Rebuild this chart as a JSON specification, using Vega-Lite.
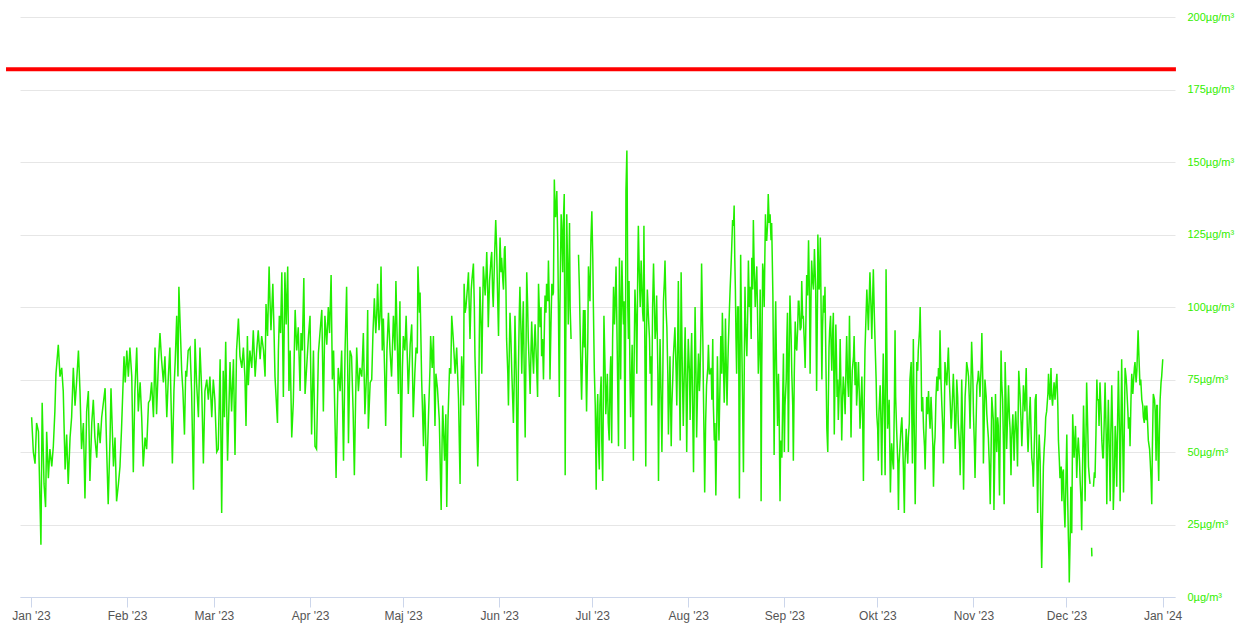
{
"$schema": "https://vega.github.io/schema/vega-lite/v6.json",
"width": 1155, "height": 580,
"autosize": "none",
"padding": {"left": 20, "top": 17, "right": 61, "bottom": 27},
"background": "white",
"config": {"view": {"stroke": null}, "font": "Liberation Sans, Arial, sans-serif"},
"data": {"values": [
{"d":0.2,"v":62},{"d":0.75,"v":50},{"d":1.3,"v":46},{"d":1.8,"v":60},{"d":2.4,"v":57},{"d":3.2,"v":18},{"d":3.6,"v":67},{"d":4.2,"v":39},{"d":4.7,"v":31},{"d":5.05,"v":57},{"d":5.6,"v":41},{"d":6.1,"v":51},{"d":6.7,"v":45},{"d":7.2,"v":52},{"d":7.7,"v":64},{"d":8.05,"v":77},{"d":8.8,"v":87},{"d":9.35,"v":76},{"d":9.9,"v":79},{"d":10.4,"v":71},{"d":11.0,"v":44},{"d":11.5,"v":56},{"d":12.0,"v":39},{"d":12.6,"v":55},{"d":13.1,"v":62},{"d":13.65,"v":79},{"d":14.2,"v":66},{"d":14.7,"v":74},{"d":15.3,"v":85},{"d":15.8,"v":71},{"d":16.3,"v":51},{"d":16.9,"v":60},{"d":17.4,"v":34},{"d":17.95,"v":64},{"d":18.5,"v":71},{"d":19.0,"v":40},{"d":19.6,"v":60},{"d":20.1,"v":68},{"d":20.6,"v":55},{"d":21.2,"v":48},{"d":21.7,"v":60},{"d":22.3,"v":53},{"d":22.8,"v":62},{"d":23.9,"v":72},{"d":24.4,"v":51},{"d":24.9,"v":32},{"d":25.5,"v":55},{"d":25.8,"v":72},{"d":26.6,"v":45},{"d":27.1,"v":55},{"d":27.6,"v":33},{"d":28.2,"v":39},{"d":28.7,"v":45},{"d":29.2,"v":58},{"d":30.0,"v":83},{"d":30.4,"v":74},{"d":30.9,"v":85},{"d":31.4,"v":76},{"d":31.9,"v":86},{"d":32.5,"v":76},{"d":33.0,"v":43},{"d":33.5,"v":71},{"d":34.1,"v":86},{"d":34.6,"v":64},{"d":35.2,"v":74},{"d":35.7,"v":62},{"d":36.2,"v":45},{"d":36.8,"v":55},{"d":37.3,"v":51},{"d":37.9,"v":67},{"d":38.4,"v":68},{"d":38.9,"v":74},{"d":39.5,"v":62},{"d":40.0,"v":86},{"d":40.5,"v":63},{"d":41.1,"v":81},{"d":41.6,"v":91},{"d":42.1,"v":82},{"d":42.7,"v":74},{"d":43.2,"v":83},{"d":43.8,"v":62},{"d":44.3,"v":76},{"d":44.8,"v":86},{"d":45.6,"v":46},{"d":46.1,"v":71},{"d":46.5,"v":81},{"d":47.0,"v":97},{"d":47.4,"v":76},{"d":47.7,"v":107},{"d":48.2,"v":91},{"d":48.6,"v":78},{"d":49.0,"v":71},{"d":49.5,"v":56},{"d":49.9,"v":78},{"d":50.2,"v":76},{"d":50.7,"v":85},{"d":51.3,"v":86},{"d":51.8,"v":71},{"d":52.4,"v":37},{"d":52.9,"v":89},{"d":53.4,"v":74},{"d":54.0,"v":62},{"d":54.5,"v":86},{"d":55.1,"v":70},{"d":55.6,"v":46},{"d":56.1,"v":71},{"d":56.7,"v":75},{"d":57.2,"v":68},{"d":57.7,"v":76},{"d":58.3,"v":62},{"d":58.8,"v":75},{"d":59.3,"v":68},{"d":59.9,"v":50},
{"d":60.4,"v":51},{"d":61.0,"v":82},{"d":61.5,"v":29},{"d":62.0,"v":78},{"d":62.4,"v":62},{"d":62.8,"v":88},{"d":63.4,"v":47},{"d":64.2,"v":81},{"d":64.7,"v":64},{"d":65.3,"v":82},{"d":65.8,"v":49},{"d":66.3,"v":85},{"d":66.9,"v":96},{"d":67.4,"v":83},{"d":68.0,"v":79},{"d":68.5,"v":86},{"d":69.0,"v":76},{"d":69.35,"v":59},{"d":69.8,"v":90},{"d":70.1,"v":73},{"d":70.6,"v":85},{"d":71.2,"v":79},{"d":71.7,"v":92},{"d":72.3,"v":76},{"d":72.8,"v":85},{"d":73.3,"v":92},{"d":73.9,"v":82},{"d":74.4,"v":90},{"d":75.0,"v":85},{"d":75.5,"v":76},{"d":75.8,"v":101},{"d":76.3,"v":90},{"d":76.8,"v":114},{"d":77.1,"v":102},{"d":77.4,"v":92},{"d":78.0,"v":108},{"d":78.4,"v":91},{"d":78.7,"v":76},{"d":79.5,"v":60},{"d":79.8,"v":85},{"d":80.1,"v":97},{"d":80.5,"v":91},{"d":80.9,"v":112},{"d":81.4,"v":69},{"d":81.9,"v":112},{"d":82.3,"v":94},{"d":82.8,"v":114},{"d":83.2,"v":71},{"d":83.6,"v":85},{"d":84.1,"v":55},{"d":84.6,"v":67},{"d":85.2,"v":99},{"d":85.7,"v":85},{"d":86.2,"v":93},{"d":86.8,"v":71},{"d":87.1,"v":91},{"d":87.5,"v":85},{"d":88.0,"v":110},{"d":88.4,"v":70},{"d":88.9,"v":79},{"d":89.5,"v":90},{"d":90.0,"v":97},{"d":90.5,"v":56},{"d":91.1,"v":85},{"d":91.6,"v":52},{"d":92.1,"v":51},{"d":92.7,"v":84},{"d":93.2,"v":91},{"d":93.8,"v":99},{"d":94.3,"v":64},{"d":94.8,"v":97},{"d":95.4,"v":87},{"d":95.9,"v":100},{"d":96.3,"v":91},{"d":96.8,"v":111},{"d":97.2,"v":75},{"d":97.6,"v":85},{"d":98.1,"v":58},{"d":98.4,"v":41},{"d":98.8,"v":64},{"d":99.1,"v":79},{"d":99.7,"v":71},{"d":100.2,"v":85},{"d":100.8,"v":47},{"d":101.3,"v":85},{"d":101.8,"v":107},{"d":102.15,"v":79},{"d":102.4,"v":53},{"d":102.9,"v":85},{"d":103.4,"v":83},{"d":103.9,"v":64},{"d":104.3,"v":42},{"d":104.7,"v":68},{"d":105.05,"v":86},{"d":105.6,"v":71},{"d":106.1,"v":79},{"d":106.7,"v":76},{"d":107.2,"v":91},{"d":107.7,"v":63},{"d":108.3,"v":79},{"d":108.6,"v":99},{"d":108.8,"v":58},{"d":109.4,"v":74},{"d":109.9,"v":75},{"d":110.3,"v":91},{"d":110.75,"v":103},{"d":111.2,"v":91},{"d":111.5,"v":97},{"d":111.8,"v":108},{"d":112.25,"v":92},{"d":112.6,"v":97},{"d":112.9,"v":114},{"d":113.3,"v":85},{"d":113.65,"v":96},{"d":114.1,"v":76},{"d":114.4,"v":59},{"d":114.8,"v":85},{"d":115.3,"v":98},{"d":115.8,"v":85},{"d":116.3,"v":76},{"d":116.9,"v":97},{"d":117.4,"v":85},{"d":117.7,"v":109},{"d":118.2,"v":85},{"d":118.5,"v":70},{"d":119.0,"v":102},{"d":119.35,"v":48},{"d":119.8,"v":79},{"d":120.1,"v":90},{"d":120.6,"v":85},{"d":121.0,"v":97},{"d":121.4,"v":82},{"d":121.7,"v":70},{"d":122.3,"v":87},{"d":122.8,"v":94},
{"d":123.3,"v":62},{"d":123.8,"v":77},{"d":124.2,"v":86},{"d":124.6,"v":84},{"d":124.8,"v":114},{"d":125.3,"v":98},{"d":125.5,"v":105},{"d":126.0,"v":75},{"d":126.6,"v":52},{"d":126.9,"v":70},{"d":127.1,"v":66},{"d":127.6,"v":40},{"d":128.0,"v":54},{"d":128.2,"v":62},{"d":128.7,"v":79},{"d":128.9,"v":90},{"d":129.4,"v":79},{"d":129.8,"v":90},{"d":130.3,"v":59},{"d":130.6,"v":77},{"d":131.1,"v":72},{"d":131.7,"v":61},{"d":132.3,"v":30},{"d":132.6,"v":54},{"d":132.8,"v":66},{"d":133.1,"v":56},{"d":133.4,"v":47},{"d":133.8,"v":63},{"d":134.1,"v":31},{"d":134.5,"v":61},{"d":135.0,"v":79},{"d":135.4,"v":77},{"d":135.7,"v":97},{"d":136.2,"v":89},{"d":136.8,"v":77},{"d":137.3,"v":86},{"d":137.9,"v":68},{"d":138.4,"v":39},{"d":138.6,"v":66},{"d":138.9,"v":83},{"d":139.3,"v":75},{"d":139.5,"v":66},{"d":139.7,"v":108},{"d":140.0,"v":98},{"d":140.3,"v":100},{"d":140.8,"v":107},{"d":141.1,"v":112},{"d":141.4,"v":98},{"d":141.6,"v":89},{"d":142.0,"v":106},{"d":142.2,"v":109},{"d":142.7,"v":115},{"d":143.0,"v":100},{"d":143.2,"v":83},{"d":143.8,"v":58},{"d":144.1,"v":45},{"d":144.3,"v":54},{"d":144.6,"v":89},{"d":144.8,"v":107},{"d":145.2,"v":93},{"d":145.4,"v":77},{"d":145.7,"v":100},{"d":145.9,"v":114},{"d":146.5,"v":104},{"d":146.8,"v":112},{"d":147.0,"v":119},{"d":147.3,"v":106},{"d":147.5,"v":93},{"d":147.9,"v":109},{"d":148.1,"v":112},{"d":148.4,"v":117},{"d":148.6,"v":119},{"d":148.9,"v":105},{"d":149.1,"v":100},{"d":149.6,"v":120},{"d":149.9,"v":130},{"d":150.2,"v":120},{"d":150.4,"v":109},{"d":150.8,"v":90},{"d":151.1,"v":114},{"d":151.3,"v":124},{"d":151.6,"v":112},{"d":151.8,"v":117},{"d":152.2,"v":109},{"d":152.4,"v":106},{"d":152.7,"v":120},{"d":152.9,"v":121},{"d":153.2,"v":106},{"d":153.4,"v":89},{"d":153.8,"v":77},{"d":154.0,"v":66},{"d":154.3,"v":86},{"d":154.5,"v":98},{"d":154.8,"v":89},{"d":155.1,"v":77},{"d":155.4,"v":67},{"d":155.6,"v":60},{"d":155.9,"v":77},{"d":156.1,"v":97},{"d":156.5,"v":77},{"d":156.7,"v":56},{"d":156.9,"v":40},{"d":157.2,"v":77},{"d":157.5,"v":98},{"d":157.7,"v":107},{"d":158.1,"v":89},{"d":158.3,"v":77},{"d":158.6,"v":94},{"d":158.8,"v":102},{"d":159.1,"v":77},{"d":159.4,"v":55},{"d":159.7,"v":89},{"d":159.9,"v":112},{"d":160.2,"v":100},{"d":160.4,"v":89},{"d":160.8,"v":77},{"d":161.0,"v":70},{"d":161.3,"v":86},{"d":161.5,"v":95},{"d":161.8,"v":84},{"d":162.1,"v":77},{"d":162.4,"v":89},{"d":162.6,"v":94},{"d":163.1,"v":79},{"d":163.4,"v":69},{"d":163.7,"v":108},{"d":164.0,"v":98},{"d":164.2,"v":93},{"d":164.5,"v":100},{"d":164.7,"v":83},{"d":165.0,"v":89},{"d":165.3,"v":75},{"d":165.6,"v":93},{"d":165.8,"v":104},{"d":166.1,"v":98},{"d":166.3,"v":108},{"d":166.7,"v":102},{"d":166.9,"v":116},{"d":167.2,"v":100},{"d":167.4,"v":75},{"d":167.7,"v":93},{"d":168.0,"v":108},{"d":168.3,"v":104},{"d":168.5,"v":105},{"d":168.8,"v":144},{"d":169.0,"v":135},{"d":169.2,"v":131},{"d":169.6,"v":140},{"d":169.9,"v":123},{"d":170.1,"v":102},{"d":170.4,"v":69},{"d":170.6,"v":100},{"d":171.0,"v":132},{"d":171.3,"v":123},{"d":171.5,"v":112},{"d":171.7,"v":129},{"d":172.0,"v":139},{"d":172.3,"v":42},{"d":172.5,"v":89},{"d":172.8,"v":132},{"d":173.1,"v":112},{"d":173.3,"v":94},{"d":173.7,"v":129},{"d":173.9,"v":100},{"d":174.2,"v":89},{"d":174.5,"v":null},{"d":176.6,"v":118},{"d":176.9,"v":106},{"d":177.1,"v":94},{"d":177.4,"v":77},{"d":177.6,"v":68},{"d":178.0,"v":89},{"d":178.2,"v":99},{"d":178.5,"v":86},{"d":178.7,"v":99},{"d":179.0,"v":77},{"d":179.2,"v":64},{"d":179.6,"v":89},{"d":179.8,"v":114},{"d":180.1,"v":106},{"d":180.3,"v":102},{"d":180.6,"v":123},{"d":180.9,"v":133},{"d":181.2,"v":117},{"d":181.4,"v":100},{"d":181.7,"v":78},{"d":182.0,"v":66},{"d":182.3,"v":37},{"d":182.5,"v":60},{"d":182.8,"v":70},{"d":183.0,"v":54},{"d":183.3,"v":44},{"d":183.5,"v":66},{"d":183.9,"v":76},{"d":184.1,"v":54},{"d":184.4,"v":40},{"d":184.6,"v":66},{"d":184.8,"v":97},{"d":185.2,"v":77},{"d":185.4,"v":63},{"d":185.7,"v":71},{"d":185.9,"v":77},{"d":186.2,"v":60},{"d":186.5,"v":54},
{"d":186.8,"v":77},{"d":187.0,"v":83},{"d":187.3,"v":53},{"d":187.6,"v":89},{"d":187.9,"v":107},{"d":188.2,"v":94},{"d":188.4,"v":100},{"d":188.7,"v":114},{"d":188.9,"v":100},{"d":189.1,"v":84},{"d":189.5,"v":52},{"d":189.8,"v":117},{"d":190.0,"v":100},{"d":190.2,"v":75},{"d":190.4,"v":100},{"d":190.6,"v":116},{"d":190.9,"v":100},{"d":191.1,"v":94},{"d":191.3,"v":102},{"d":191.6,"v":51},{"d":191.8,"v":100},{"d":191.9,"v":140},{"d":192.2,"v":154},{"d":192.3,"v":142},{"d":192.5,"v":100},{"d":192.7,"v":89},{"d":192.9,"v":109},{"d":193.2,"v":77},{"d":193.4,"v":62},{"d":193.7,"v":77},{"d":193.9,"v":87},{"d":194.1,"v":66},{"d":194.3,"v":47},{"d":194.5,"v":77},{"d":194.8,"v":106},{"d":195.2,"v":94},{"d":195.4,"v":77},{"d":195.7,"v":112},{"d":195.9,"v":128},{"d":196.2,"v":112},{"d":196.5,"v":100},{"d":196.8,"v":116},{"d":197.0,"v":109},{"d":197.3,"v":98},{"d":197.5,"v":95},{"d":197.7,"v":128},{"d":197.9,"v":100},{"d":198.3,"v":45},{"d":198.5,"v":89},{"d":198.8,"v":106},{"d":199.1,"v":98},{"d":199.5,"v":89},{"d":199.7,"v":77},{"d":200.0,"v":83},{"d":200.2,"v":66},{"d":200.5,"v":100},{"d":200.8,"v":115},{"d":201.1,"v":100},{"d":201.3,"v":89},{"d":201.6,"v":94},{"d":201.8,"v":104},{"d":202.2,"v":77},{"d":202.4,"v":40},{"d":202.6,"v":66},{"d":202.9,"v":89},{"d":203.1,"v":77},{"d":203.5,"v":50},{"d":203.8,"v":77},{"d":204.0,"v":102},{"d":204.3,"v":109},{"d":204.5,"v":116},{"d":204.8,"v":100},{"d":205.1,"v":93},{"d":205.4,"v":77},{"d":205.6,"v":56},{"d":205.9,"v":71},{"d":206.1,"v":83},{"d":206.5,"v":52},{"d":206.7,"v":66},{"d":207.0,"v":75},{"d":207.2,"v":83},{"d":207.5,"v":89},{"d":207.7,"v":93},{"d":208.1,"v":77},{"d":208.3,"v":66},{"d":208.6,"v":89},{"d":208.8,"v":109},{"d":209.1,"v":77},{"d":209.4,"v":54},{"d":209.7,"v":112},{"d":209.9,"v":94},{"d":210.1,"v":77},{"d":210.4,"v":59},{"d":210.8,"v":83},{"d":211.0,"v":93},{"d":211.3,"v":71},{"d":211.5,"v":50},{"d":211.8,"v":77},{"d":212.0,"v":89},{"d":212.4,"v":77},{"d":212.6,"v":61},{"d":212.9,"v":83},{"d":213.1,"v":91},{"d":213.4,"v":66},{"d":213.7,"v":43},{"d":214.0,"v":77},{"d":214.2,"v":100},{"d":214.5,"v":77},{"d":214.7,"v":55},{"d":215.1,"v":77},{"d":215.3,"v":84},{"d":215.6,"v":71},{"d":215.8,"v":76},{"d":216.1,"v":94},{"d":216.3,"v":115},{"d":216.7,"v":89},{"d":216.9,"v":70},{"d":217.1,"v":54},{"d":217.3,"v":36},{"d":217.6,"v":60},{"d":217.9,"v":73},{"d":218.3,"v":79},{"d":218.5,"v":87},{"d":218.8,"v":77},{"d":219.0,"v":77},{"d":219.4,"v":79},{"d":219.6,"v":68},{"d":219.9,"v":89},{"d":220.1,"v":66},{"d":220.4,"v":54},{"d":220.6,"v":60},{"d":220.9,"v":35},{"d":221.2,"v":60},{"d":221.4,"v":83},{"d":221.7,"v":66},{"d":221.9,"v":54},{"d":222.3,"v":77},{"d":222.5,"v":90},{"d":222.8,"v":77},{"d":223.0,"v":98},{"d":223.3,"v":83},{"d":223.6,"v":67},{"d":223.8,"v":77},{"d":224.0,"v":96},{"d":224.2,"v":83},{"d":224.5,"v":66},{"d":224.7,"v":77},{"d":224.9,"v":86},{"d":225.3,"v":100},{"d":225.5,"v":106},{"d":225.8,"v":114},{"d":226.0,"v":120},{"d":226.3,"v":130},{"d":226.6,"v":128},{"d":226.8,"v":135},{"d":227.0,"v":117},{"d":227.2,"v":106},{"d":227.4,"v":89},{"d":227.6,"v":77},{"d":227.9,"v":100},{"d":228.2,"v":100},{"d":228.5,"v":34},{"d":228.7,"v":77},{"d":228.9,"v":118},{"d":229.1,"v":100},{"d":229.4,"v":77},{"d":229.6,"v":60},{"d":229.8,"v":43},{"d":230.1,"v":83},{"d":230.3,"v":107},{"d":230.5,"v":94},{"d":230.9,"v":83},{"d":231.2,"v":100},{"d":231.4,"v":116},{"d":231.7,"v":100},{"d":231.9,"v":107},{"d":232.3,"v":89},{"d":232.5,"v":117},{"d":232.8,"v":106},{"d":233.0,"v":130},{"d":233.2,"v":117},{"d":233.6,"v":100},{"d":233.9,"v":109},{"d":234.1,"v":114},{"d":234.4,"v":94},{"d":234.6,"v":77},{"d":235.0,"v":89},{"d":235.2,"v":106},{"d":235.4,"v":66},{"d":235.5,"v":33},{"d":235.7,"v":77},{"d":236.0,"v":115},{"d":236.2,"v":112},{"d":236.5,"v":100},{"d":236.7,"v":117},{"d":236.9,"v":132},{"d":237.1,"v":123},{"d":237.3,"v":123},{"d":237.6,"v":129},{"d":237.8,"v":139},{"d":238.1,"v":129},{"d":238.4,"v":132},{"d":238.7,"v":123},{"d":238.9,"v":129},{"d":239.3,"v":104},{"d":239.5,"v":77},{"d":239.7,"v":49},{"d":240.0,"v":89},{"d":240.2,"v":102},{"d":240.5,"v":77},{"d":240.8,"v":59},{"d":241.1,"v":77},{"d":241.3,"v":66},{"d":241.6,"v":33},{"d":241.8,"v":54},{"d":242.2,"v":48},{"d":242.5,"v":71},{"d":242.7,"v":84},{"d":243.0,"v":50},{"d":243.2,"v":66},{"d":243.6,"v":75},{"d":243.8,"v":89},{"d":244.0,"v":98},{"d":244.3,"v":50},{"d":244.5,"v":77},{"d":244.8,"v":104},{"d":245.2,"v":89},{"d":245.4,"v":77},{"d":245.7,"v":66},{"d":245.9,"v":47},{"d":246.2,"v":77},{"d":246.5,"v":95},{"d":246.8,"v":86},{"d":247.0,"v":85},{"d":247.3,"v":93},{"d":247.5,"v":102},
{"d":247.7,"v":102},{"d":248.1,"v":92},{"d":248.4,"v":93},{"d":248.6,"v":109},{"d":248.9,"v":96},{"d":249.1,"v":97},{"d":249.5,"v":86},{"d":249.7,"v":79},{"d":250.0,"v":98},{"d":250.2,"v":111},{"d":250.5,"v":104},{"d":250.8,"v":123},{"d":251.1,"v":104},{"d":251.3,"v":77},{"d":251.6,"v":104},{"d":251.8,"v":116},{"d":252.1,"v":109},{"d":252.4,"v":106},{"d":252.7,"v":120},{"d":252.9,"v":113},{"d":253.1,"v":107},{"d":253.4,"v":71},{"d":253.7,"v":104},{"d":253.8,"v":125},{"d":254.0,"v":115},{"d":254.2,"v":106},{"d":254.4,"v":109},{"d":254.6,"v":124},{"d":254.8,"v":104},{"d":255.1,"v":75},{"d":255.3,"v":92},{"d":255.6,"v":104},{"d":255.9,"v":98},{"d":256.1,"v":107},{"d":256.4,"v":81},{"d":256.7,"v":58},{"d":257.0,"v":50},{"d":257.2,"v":69},{"d":257.4,"v":86},{"d":257.6,"v":92},{"d":257.9,"v":97},{"d":258.1,"v":86},{"d":258.3,"v":78},{"d":258.6,"v":92},{"d":258.8,"v":98},{"d":259.1,"v":56},{"d":259.4,"v":81},{"d":259.6,"v":94},{"d":259.8,"v":83},{"d":260.0,"v":69},{"d":260.2,"v":75},{"d":260.4,"v":61},{"d":260.8,"v":75},{"d":261.0,"v":89},{"d":261.3,"v":69},{"d":261.5,"v":54},{"d":261.8,"v":69},{"d":262.0,"v":76},{"d":262.4,"v":69},{"d":262.6,"v":63},{"d":262.9,"v":81},{"d":263.1,"v":90},{"d":263.4,"v":75},{"d":263.7,"v":69},{"d":264.0,"v":97},{"d":264.2,"v":81},{"d":264.5,"v":55},{"d":264.7,"v":69},{"d":264.9,"v":78},{"d":265.3,"v":83},{"d":265.5,"v":90},{"d":265.8,"v":73},{"d":266.1,"v":81},{"d":266.3,"v":66},{"d":266.7,"v":75},{"d":266.9,"v":81},{"d":267.2,"v":69},{"d":267.4,"v":58},{"d":267.7,"v":67},{"d":268.0,"v":76},{"d":268.3,"v":58},{"d":268.5,"v":40},{"d":268.7,"v":63},{"d":269.0,"v":85},{"d":269.2,"v":92},{"d":269.6,"v":106},{"d":269.9,"v":98},{"d":270.1,"v":92},{"d":270.4,"v":104},{"d":270.6,"v":112},{"d":271.0,"v":98},{"d":271.2,"v":89},{"d":271.5,"v":104},{"d":271.7,"v":113},{"d":272.0,"v":98},{"d":272.3,"v":86},{"d":272.6,"v":75},{"d":272.8,"v":63},{"d":273.1,"v":58},{"d":273.3,"v":47},{"d":273.5,"v":63},{"d":273.9,"v":73},{"d":274.2,"v":58},{"d":274.4,"v":42},{"d":274.7,"v":69},{"d":274.9,"v":84},{"d":275.3,"v":58},{"d":275.5,"v":42},{"d":275.7,"v":81},{"d":275.8,"v":113},{"d":276.0,"v":92},{"d":276.3,"v":58},{"d":276.6,"v":63},{"d":276.8,"v":68},{"d":277.0,"v":52},{"d":277.2,"v":36},{"d":277.4,"v":46},{"d":277.6,"v":53},{"d":278.0,"v":46},{"d":278.2,"v":44},{"d":278.5,"v":69},{"d":278.7,"v":92},{"d":278.9,"v":69},{"d":279.2,"v":58},{"d":279.6,"v":46},{"d":279.8,"v":30},{"d":280.0,"v":46},{"d":280.3,"v":52},{"d":280.6,"v":58},{"d":280.9,"v":62},{"d":281.2,"v":52},{"d":281.4,"v":44},{"d":281.7,"v":29},{"d":281.9,"v":46},{"d":282.3,"v":58},{"d":282.5,"v":52},{"d":282.8,"v":46},{"d":283.0,"v":55},{"d":283.3,"v":60},{"d":283.5,"v":75},{"d":283.9,"v":81},{"d":284.1,"v":63},{"d":284.3,"v":46},{"d":284.5,"v":75},{"d":284.6,"v":89},{"d":284.9,"v":58},{"d":285.2,"v":32},{"d":285.5,"v":58},{"d":285.7,"v":81},{"d":286.0,"v":78},{"d":286.2,"v":85},{"d":286.6,"v":92},{"d":286.8,"v":100},{"d":287.1,"v":81},{"d":287.3,"v":64},{"d":287.6,"v":69},{"d":287.9,"v":58},{"d":288.2,"v":52},{"d":288.4,"v":44},{"d":288.7,"v":58},{"d":288.9,"v":69},{"d":289.2,"v":63},{"d":289.5,"v":71},{"d":289.8,"v":62},{"d":290.0,"v":58},{"d":290.3,"v":69},{"d":290.5,"v":64},{"d":290.9,"v":52},{"d":291.1,"v":38},{"d":291.4,"v":52},{"d":291.6,"v":55},{"d":291.9,"v":69},{"d":292.2,"v":76},{"d":292.5,"v":71},{"d":292.7,"v":79},{"d":293.0,"v":75},{"d":293.2,"v":92},{"d":293.5,"v":75},{"d":293.8,"v":66},{"d":294.1,"v":58},{"d":294.3,"v":46},{"d":294.6,"v":63},{"d":294.8,"v":81},{"d":295.2,"v":75},{"d":295.4,"v":73},{"d":295.7,"v":81},{"d":295.9,"v":86},{"d":296.2,"v":75},{"d":296.5,"v":67},{"d":296.8,"v":58},{"d":297.0,"v":62},{"d":297.3,"v":71},{"d":297.5,"v":77},{"d":297.9,"v":63},{"d":298.1,"v":51},{"d":298.4,"v":63},{"d":298.6,"v":75},{"d":298.9,"v":69},{"d":299.1,"v":60},{"d":299.5,"v":52},{"d":299.7,"v":42},{"d":300.0,"v":58},{"d":300.2,"v":75},{"d":300.5,"v":58},{"d":300.8,"v":37},{"d":301.1,"v":58},{"d":301.3,"v":69},{"d":301.6,"v":75},{"d":301.8,"v":81},{"d":302.2,"v":78},{"d":302.4,"v":76},{"d":302.7,"v":67},{"d":302.9,"v":58},{"d":303.2,"v":75},{"d":303.4,"v":88},{"d":303.8,"v":75},{"d":304.0,"v":63},{"d":304.3,"v":52},{"d":304.5,"v":41},{"d":304.8,"v":58},{"d":305.1,"v":73},{"d":305.4,"v":75},{"d":305.6,"v":78},{"d":305.9,"v":74},{"d":306.1,"v":69},{"d":306.5,"v":81},{"d":306.7,"v":91},{"d":307.0,"v":75},{"d":307.2,"v":46},{"d":307.5,"v":63},{"d":307.7,"v":75},{"d":308.1,"v":69},{"d":308.3,"v":63},{"d":308.6,"v":58},{"d":308.8,"v":55},{"d":309.1,"v":46},{"d":309.4,"v":32},{"d":309.7,"v":52},{"d":309.9,"v":69},{"d":310.4,"v":61},
{"d":310.6,"v":30},{"d":310.9,"v":51},{"d":311.1,"v":70},{"d":311.3,"v":59},{"d":311.5,"v":50},{"d":311.8,"v":62},{"d":312.0,"v":59},{"d":312.4,"v":35},{"d":312.6,"v":56},{"d":312.9,"v":85},{"d":313.1,"v":74},{"d":313.4,"v":68},{"d":313.7,"v":51},{"d":313.9,"v":32},{"d":314.1,"v":56},{"d":314.2,"v":81},{"d":314.5,"v":68},{"d":314.7,"v":51},{"d":315.0,"v":62},{"d":315.3,"v":73},{"d":315.6,"v":62},{"d":315.8,"v":58},{"d":316.1,"v":42},{"d":316.3,"v":54},{"d":316.7,"v":63},{"d":316.9,"v":56},{"d":317.1,"v":47},{"d":317.4,"v":59},{"d":317.6,"v":64},{"d":317.95,"v":56},{"d":318.2,"v":45},{"d":318.4,"v":62},{"d":318.6,"v":78},{"d":318.8,"v":74},{"d":319.0,"v":70},{"d":319.4,"v":59},{"d":319.6,"v":52},{"d":319.9,"v":62},{"d":320.1,"v":73},{"d":320.4,"v":68},{"d":320.6,"v":64},{"d":321.0,"v":79},{"d":321.2,"v":68},{"d":321.4,"v":56},{"d":321.6,"v":50},{"d":321.8,"v":56},{"d":322.0,"v":62},{"d":322.3,"v":69},{"d":322.6,"v":56},{"d":322.8,"v":48},{"d":323.1,"v":45},{"d":323.3,"v":38},{"d":323.7,"v":56},{"d":323.9,"v":68},{"d":324.2,"v":70},{"d":324.4,"v":51},{"d":324.7,"v":29},{"d":324.9,"v":45},{"d":325.2,"v":56},{"d":325.5,"v":47},{"d":325.7,"v":28},{"d":326.0,"v":10},{"d":326.2,"v":22},{"d":326.55,"v":45},{"d":326.8,"v":51},{"d":327.1,"v":56},{"d":327.3,"v":62},{"d":327.6,"v":64},{"d":328.0,"v":70},{"d":328.2,"v":77},{"d":328.5,"v":70},{"d":328.7,"v":68},{"d":329.0,"v":79},{"d":329.2,"v":70},{"d":329.5,"v":66},{"d":329.8,"v":71},{"d":330.0,"v":74},{"d":330.3,"v":68},{"d":330.6,"v":73},{"d":330.9,"v":77},{"d":331.2,"v":66},{"d":331.4,"v":54},{"d":331.7,"v":47},{"d":331.9,"v":41},{"d":332.3,"v":45},{"d":332.5,"v":33},{"d":332.8,"v":43},{"d":333.0,"v":44},{"d":333.2,"v":33},{"d":333.5,"v":24},{"d":333.8,"v":39},{"d":334.1,"v":56},{"d":334.3,"v":39},{"d":334.6,"v":21},{"d":334.8,"v":13},{"d":334.9,"v":5},{"d":335.2,"v":22},{"d":335.4,"v":38},{"d":335.7,"v":22},{"d":336.0,"v":63},{"d":336.2,"v":56},{"d":336.45,"v":48},{"d":336.7,"v":54},{"d":336.9,"v":59},{"d":337.1,"v":51},{"d":337.3,"v":41},{"d":337.6,"v":51},{"d":337.8,"v":55},{"d":338.2,"v":47},{"d":338.4,"v":40},{"d":338.7,"v":33},{"d":338.9,"v":23},{"d":339.1,"v":39},{"d":339.5,"v":66},{"d":339.8,"v":51},{"d":340.0,"v":33},{"d":340.3,"v":56},{"d":340.5,"v":74},{"d":340.9,"v":56},{"d":341.1,"v":45},{"d":341.4,"v":41},{"d":341.6,"v":39},{"d":341.9,"v":null},{"d":342.1,"v":17},{"d":342.2,"v":14},{"d":342.4,"v":null},{"d":342.7,"v":38},{"d":343.0,"v":43},{"d":343.2,"v":41},{"d":343.5,"v":56},{"d":343.8,"v":75},{"d":344.0,"v":68},{"d":344.3,"v":68},{"d":344.5,"v":59},{"d":344.8,"v":74},{"d":345.2,"v":62},{"d":345.4,"v":54},{"d":345.7,"v":48},{"d":345.9,"v":48},{"d":346.2,"v":62},{"d":346.45,"v":74},{"d":346.8,"v":56},{"d":347.0,"v":32},{"d":347.2,"v":51},{"d":347.5,"v":68},{"d":347.8,"v":51},{"d":348.1,"v":33},{"d":348.3,"v":56},{"d":348.6,"v":73},{"d":348.9,"v":56},{"d":349.1,"v":30},{"d":349.5,"v":45},{"d":349.7,"v":59},{"d":350.0,"v":51},{"d":350.2,"v":38},{"d":350.5,"v":62},{"d":350.75,"v":78},{"d":351.1,"v":56},{"d":351.3,"v":33},{"d":351.6,"v":62},{"d":351.8,"v":82},{"d":352.1,"v":56},{"d":352.4,"v":36},{"d":352.7,"v":62},{"d":352.9,"v":79},{"d":353.2,"v":76},{"d":353.4,"v":73},{"d":353.8,"v":64},{"d":354.0,"v":58},{"d":354.3,"v":62},{"d":354.5,"v":52},{"d":354.8,"v":68},{"d":355.05,"v":77},{"d":355.4,"v":70},{"d":355.6,"v":74},{"d":355.9,"v":79},{"d":356.1,"v":81},{"d":356.45,"v":74},{"d":356.7,"v":78},{"d":356.9,"v":85},{"d":357.1,"v":92},{"d":357.3,"v":85},{"d":357.5,"v":79},{"d":357.7,"v":73},{"d":357.95,"v":75},{"d":358.3,"v":68},{"d":358.6,"v":66},{"d":358.8,"v":62},{"d":359.1,"v":60},{"d":359.3,"v":66},{"d":359.7,"v":61},{"d":359.9,"v":66},{"d":360.2,"v":59},{"d":360.4,"v":54},{"d":360.8,"v":51},{"d":361.0,"v":47},{"d":361.3,"v":40},{"d":361.5,"v":32},{"d":361.7,"v":51},{"d":362.0,"v":70},{"d":362.4,"v":68},{"d":362.6,"v":64},{"d":362.9,"v":47},{"d":363.1,"v":66},{"d":363.3,"v":66},{"d":363.5,"v":51},{"d":363.75,"v":40},{"d":363.95,"v":56},{"d":364.2,"v":68},{"d":364.5,"v":74},{"d":364.7,"v":76},{"d":365.05,"v":82}
]},
"layer": [
{"mark": {"type": "line", "color": "#22ee00", "strokeWidth": 1.5, "clip": true},
 "encoding": {
  "x": {"field": "d", "type": "quantitative",
   "scale": {"domain": [-3.55, 369], "nice": false, "zero": false},
   "axis": {"title": null, "grid": false, "values": [0,31,59,90,120,151,181,212,243,273,304,334,365],
    "labelExpr": "[\"Jan '23\",\"Feb '23\",\"Mar '23\",\"Apr '23\",\"Maj '23\",\"Jun '23\",\"Jul '23\",\"Aug '23\",\"Sep '23\",\"Okt '23\",\"Nov '23\",\"Dec '23\",\"Jan '24\"][indexof([0,31,59,90,120,151,181,212,243,273,304,334,365],datum.value)]",
    "labelFlush": false, "labelOverlap": false, "domainColor": "#ccd6eb", "tickColor": "#ccd6eb", "tickSize": 10,
    "labelColor": "#555555", "labelFontSize": 12, "labelPadding": 3}},
  "y": {"field": "v", "type": "quantitative",
   "scale": {"domain": [0, 200], "nice": false},
   "axis": {"title": null, "orient": "right", "values": [0,25,50,75,100,125,150,175,200],
    "labelExpr": "datum.value + 'µg/m³'", "grid": true, "gridColor": "#e6e6e6", "domain": false, "ticks": false,
    "labelPadding": 12, "labelColor": "#33ee00", "labelFontSize": 11, "labelOverlap": false}}
 }},
{"data": {"values": [{"limit": 182}]},
 "mark": {"type": "rule", "color": "#ff0000", "strokeWidth": 4, "clip": false},
 "encoding": {"y": {"field": "limit", "type": "quantitative"}, "x": {"datum": -8.06}, "x2": {"datum": 369.3}}}
]
}
